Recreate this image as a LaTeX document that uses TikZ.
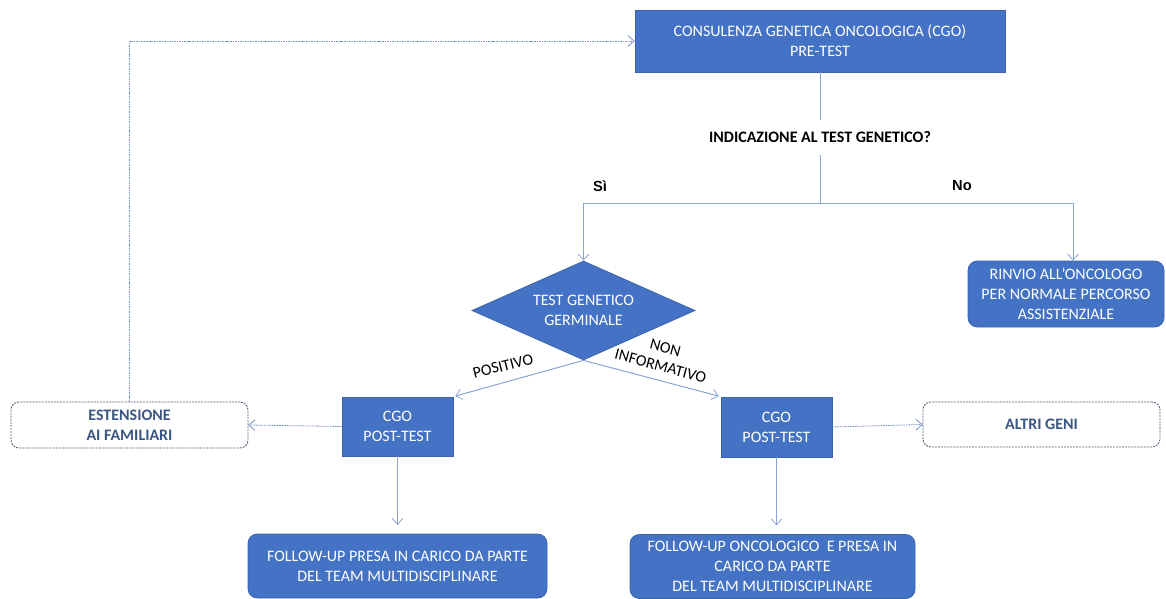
\documentclass[tikz,border=0pt]{standalone}
\usepackage{fontspec}
\setmainfont{Carlito}
\newfontfamily\arialfont{Liberation Sans}
\usetikzlibrary{arrows.meta,shapes.geometric}
\definecolor{boxfill}{HTML}{4472C4}
\definecolor{boxedge}{HTML}{3A63AE}
\definecolor{conn}{HTML}{8AA4D2}
\definecolor{dashedge}{HTML}{4F5A70}
\definecolor{dashtext}{HTML}{3A5683}
\definecolor{dotconn}{HTML}{7893C4}
\tikzset{
  bluebox/.style={draw=boxedge, line width=0.6pt, fill=boxfill, text=white, align=center,
    font=\fontsize{12}{15}\selectfont, inner sep=0pt},
  roundbox/.style={bluebox, rounded corners=7pt},
  dashbox/.style={draw=dashedge, dash pattern=on 1.5pt off 0.8pt, line width=0.6pt, rounded corners=6pt,
    text=dashtext, align=center, font=\bfseries\fontsize{12}{15}\selectfont, inner sep=0pt},
  conline/.style={draw=conn, line width=0.75pt},
  conarrow/.style={conline, -{Straight Barb[length=4.5pt,width=8pt,line width=0.6pt]}},
  dotarrow/.style={draw=dotconn, line width=0.6pt, dash pattern=on 1.2pt off 0.7pt,
    -{Straight Barb[length=4.5pt,width=8pt,line width=0.6pt,sep=0pt]}},
  lbl/.style={font=\fontsize{12}{14}\selectfont, text=black, align=center, inner sep=0pt},
  yesno/.style={font=\arialfont\bfseries\fontsize{11}{13}\selectfont, text=black, inner sep=0pt},
}
\begin{document}
\begin{tikzpicture}[x=0.75pt,y=-0.75pt]
\useasboundingbox (0,0) rectangle (1166,599);

% main nodes
\node[bluebox, minimum width=277.5pt, minimum height=46.5pt] (cgo) at (820,41)
  {CONSULENZA GENETICA ONCOLOGICA (CGO)\\PRE-TEST};
\node[font=\bfseries\fontsize{12}{15}\selectfont, text=black, inner xsep=0pt, inner ysep=9pt] (q) at (820,137.5)
  {INDICAZIONE AL TEST GENETICO?};
\coordinate (j) at (820,203);
\coordinate (lj) at (583.5,203);
\coordinate (rj) at (1073,203);

\node[yesno] (si) at (600,186) {Sì};
\node[yesno] (no) at (962,186) {No};

\node[diamond, aspect=2.25, draw=boxedge, line width=0.6pt, fill=boxfill, text=white, align=center,
  font=\fontsize{12}{15}\selectfont, inner sep=0pt, minimum width=167.25pt, minimum height=74.25pt]
  (dia) at (583.5,310.5) {TEST GENETICO\\GERMINALE};

\node[roundbox, minimum width=147pt, minimum height=49.5pt] (rinvio) at (1066,294)
  {RINVIO ALL’ONCOLOGO\\PER NORMALE PERCORSO\\ASSISTENZIALE};

\node[bluebox, minimum width=83.25pt, minimum height=44.25pt] (cgoL) at (397.5,426.5)
  {CGO\\POST-TEST};
\node[bluebox, minimum width=83.25pt, minimum height=45pt] (cgoR) at (776.5,427)
  {CGO\\POST-TEST};

\node[dashbox, minimum width=177.75pt, minimum height=34.5pt] (est) at (129.5,425)
  {ESTENSIONE\\AI FAMILIARI};
\node[dashbox, minimum width=177.75pt, minimum height=33.75pt] (altri) at (1041.5,424.5)
  {ALTRI GENI};

\node[roundbox, minimum width=224.25pt, minimum height=48pt] (fuL) at (397.5,566)
  {FOLLOW-UP PRESA IN CARICO DA PARTE\\DEL TEAM MULTIDISCIPLINARE};
\node[roundbox, minimum width=213.75pt, minimum height=48pt] (fuR) at (772.5,566.5)
  {FOLLOW-UP ONCOLOGICO\ \ E PRESA IN\\CARICO DA PARTE\\DEL TEAM MULTIDISCIPLINARE};

% labels on diagonal connectors
\node[lbl, rotate=14] (pos) at (503,366) {POSITIVO};
\node[lbl, rotate=-15] (noninf) at (663,357) {NON\\INFORMATIVO};

% connectors
\draw[conline] (cgo.south) -- (q.north);
\draw[conline] (q.south) -- (j);
\draw[conline] (lj) -- (rj);
\draw[conarrow] (lj) -- (dia.north);
\draw[conarrow] (rj) -- (rj |- rinvio.north);
\draw[conarrow, shorten >=1.5pt] (dia.south) -- (cgoL.north east);
\draw[conarrow, shorten >=1.5pt] (dia.south) -- (cgoR.north west);
\draw[conarrow, shorten >=6.5pt] (cgoL.south) -- (fuL.north);
\draw[conarrow, shorten >=6.5pt] (cgoR.south) -- (cgoR.south |- fuR.north);

\draw[dotarrow] (cgoL.west) -- (est.east);
\draw[dotarrow] (cgoR.east) -- (altri.west);
\draw[dotarrow] (est.north) |- (cgo.west);
\end{tikzpicture}
\end{document}
